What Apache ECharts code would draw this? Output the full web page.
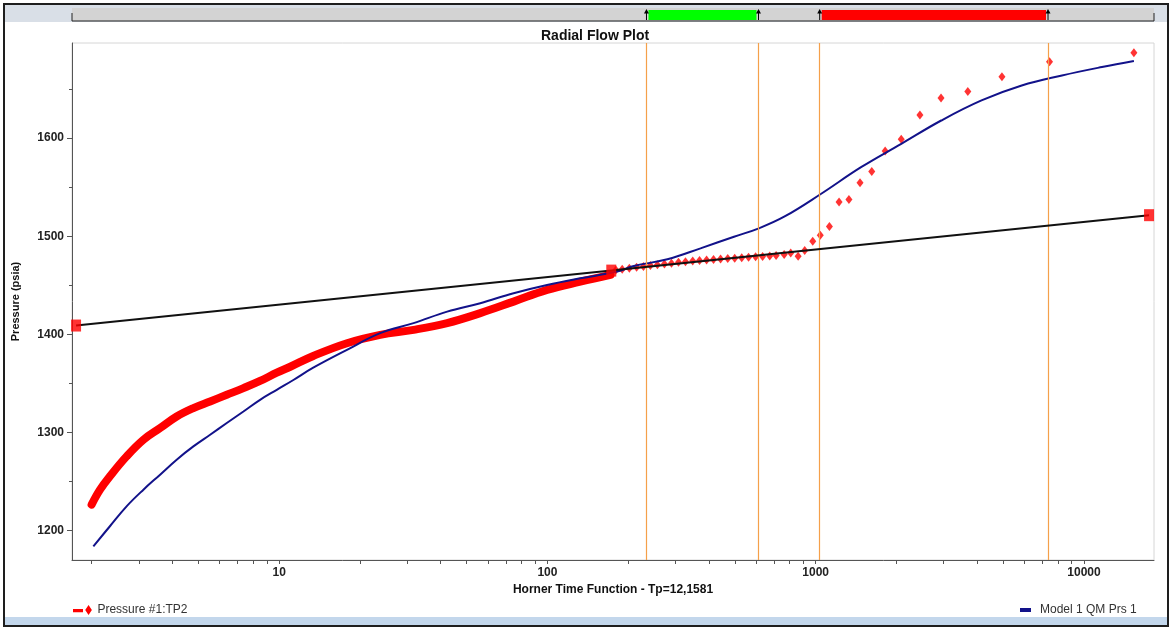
<!DOCTYPE html>
<html><head><meta charset="utf-8">
<script src="https://cdn.jsdelivr.net/npm/echarts@6/dist/echarts.min.js"></script>
<style>html,body{margin:0;padding:0;background:#fff}#c{width:1174px;height:629px}</style>
</head><body><div id="c"></div><script>
// ---- data ----
var chartTitle = 'Radial Flow Plot';
var xName = 'Horner Time Function - Tp=12,1581';
var yName = 'Pressure (psia)';
var seriesNames = ['Pressure #1:TP2', 'Model 1 QM Prs 1'];

var xMin = 1.69, xMax = 18240;
var yMin = 1170, yMax = 1697;
var xTickLabels = [10, 100, 1000, 10000];
var xTicks = [2,3,4,5,6,7,8,9,10,20,30,40,50,60,70,80,90,100,200,300,400,500,600,700,800,900,1000,2000,3000,4000,5000,6000,7000,8000,9000,10000];
var yTickLabels = [1200, 1300, 1400, 1500, 1600];
var yMinorTicks = [1250, 1350, 1450, 1550, 1650];

// measured pressure, dense early part (drawn as thick band)
var presDenseX = [2.0, 2.15, 2.34, 2.70, 3.12, 3.60, 4.15, 4.79, 5.53, 6.38, 7.36, 8.49, 9.80, 11.0, 13.4, 17.9, 23.8, 31.7, 42.3, 56.2, 74.8, 99.7, 132.7, 171.8];
var presDenseY = [1226.5, 1241.7, 1255.3, 1275.6, 1292.6, 1304.5, 1316.3, 1324.9, 1331.6, 1338.4, 1345.2, 1352.5, 1361, 1367, 1378, 1391, 1399.5, 1404.6, 1411.5, 1421.6, 1433.4, 1445.3, 1453.7, 1460.6];
// measured pressure, later individual points
var presPtsX = [180, 190, 202, 215, 228, 242, 257, 273, 290, 308, 327, 348, 369, 392, 416, 442, 470, 499, 530, 562, 597, 634, 674, 712, 763, 807, 860, 910, 975, 1040, 1125, 1222, 1330, 1463, 1618, 1815, 2084, 2446, 2932, 3690, 4946, 7440, 15350];
var presPtsY = [1465.5, 1466.5, 1467.5, 1468.4, 1469.3, 1470.2, 1471, 1471.8, 1472.6, 1473.4, 1474.1, 1474.7, 1475.3, 1475.9, 1476.4, 1476.9, 1477.3, 1477.7, 1478.1, 1478.5, 1479, 1479.4, 1479.8, 1480.3, 1481.5, 1483, 1479.7, 1485.5, 1495, 1501, 1510, 1535, 1537.5, 1554.5, 1566, 1587, 1599, 1623.5, 1641, 1647.5, 1662.5, 1678, 1687];
// model
var modelX = [2.03, 2.34, 2.70, 3.12, 3.60, 4.15, 4.79, 5.53, 6.38, 7.36, 8.49, 9.80, 11.3, 13.4, 17.9, 23.8, 31.7, 42.3, 56.2, 74.8, 99.7, 132.7, 182, 210, 280, 372, 496, 614, 763, 1045, 1476, 2084, 2937, 4150, 5861, 8279, 11670, 15350];
var modelY = [1184, 1204.4, 1224.7, 1241.7, 1257, 1272.3, 1285.8, 1297.7, 1309.6, 1321.4, 1333.3, 1343.5, 1353.5, 1366, 1384.2, 1401.2, 1411.5, 1423.2, 1431.8, 1442, 1450.4, 1457.2, 1464, 1469.7, 1476.5, 1487.7, 1499.5, 1508.1, 1519.9, 1543.1, 1570.4, 1594.2, 1618, 1638.5, 1653.7, 1663.9, 1672.5, 1678.6];
// radial flow straight line (through square handles)
var radialX = [1.75, 173, 17480];
var radialY = [1409, 1465, 1521.5];
// vertical range markers
var markerX = [234, 612, 1035, 7345];
var greenRange = [234, 612];
var redRange = [1035, 7345];

function zip(a, b) { return a.map(function (v, i) { return [v, b[i]]; }); }

var FONT = 'Liberation Sans, Arial, sans-serif';
var chart = echarts.init(document.getElementById('c'), null, {renderer: 'canvas'});

var option = {
  animation: false,
  backgroundColor: '#ffffff',
  title: {
    text: chartTitle, left: 536, top: 24,
    textStyle: {fontFamily: FONT, fontSize: 14, fontWeight: 'bold', color: '#111'}
  },
  legend: [
    {
      data: [{name: seriesNames[0], icon: 'path://M0,4h9v3h-9z M14,0.5l3,4.5l-3,4.5l-3,-4.5z'}],
      left: 68, top: 599, itemWidth: 20, itemHeight: 10,
      textStyle: {fontFamily: FONT, fontSize: 12, color: '#333'}
    },
    {
      data: [{name: seriesNames[1], icon: 'rect'}],
      left: 1015, top: 599, itemWidth: 11, itemHeight: 4,
      textStyle: {fontFamily: FONT, fontSize: 12, color: '#333', padding: [0, 0, 0, 4]}
    }
  ],
  grid: {left: 72, right: 20, top: 43, bottom: 69, show: true, borderColor: '#d6d6d6', borderWidth: 1},
  xAxis: {
    type: 'log', logBase: 10, min: xMin, max: xMax,
    name: xName, nameLocation: 'middle', nameGap: 23,
    nameTextStyle: {fontFamily: FONT, fontSize: 12, fontWeight: 'bold', color: '#111'},
    axisLine: {show: true, lineStyle: {color: '#555', width: 1}},
    axisTick: {show: true, length: 4, customValues: xTicks, lineStyle: {color: '#555'}},
    axisLabel: {customValues: xTickLabels, margin: 7, fontFamily: FONT, fontSize: 12, fontWeight: 'bold', color: '#222',
      formatter: function (v) { return String(Math.round(v)); }},
    splitLine: {show: false}
  },
  yAxis: [
    {
      type: 'value', min: yMin, max: yMax, position: 'left',
      name: yName, nameLocation: 'middle', nameGap: 51,
      nameTextStyle: {fontFamily: FONT, fontSize: 11, fontWeight: 'bold', color: '#111'},
      axisLine: {show: true, lineStyle: {color: '#555', width: 1}},
      axisTick: {show: true, length: 5, customValues: yTickLabels, lineStyle: {color: '#555'}},
      axisLabel: {customValues: yTickLabels, margin: 8, fontFamily: FONT, fontSize: 12, fontWeight: 'bold', color: '#222',
        formatter: function (v) { return String(Math.round(v)); }},
      splitLine: {show: false}
    },
    {
      type: 'value', min: yMin, max: yMax, position: 'left', offset: 0,
      axisLine: {show: false},
      axisTick: {show: true, length: 3, customValues: yMinorTicks, lineStyle: {color: '#555'}},
      axisLabel: {show: false},
      splitLine: {show: false}
    }
  ],
  series: [
    {
      name: seriesNames[0], type: 'line', data: zip(presDenseX, presDenseY),
      showSymbol: false, symbol: 'none', smooth: 0.4,
      lineStyle: {color: '#ff0000', width: 8, cap: 'round', join: 'round'},
      itemStyle: {color: '#ff0000'},
      markLine: {
        silent: true, symbol: 'none', animation: false,
        label: {show: false},
        lineStyle: {color: '#f5a04a', width: 1.2, type: 'solid'},
        data: markerX.map(function (v) { return {xAxis: v}; })
      },
      z: 2
    },
    {
      name: seriesNames[0], type: 'scatter', data: zip(presPtsX, presPtsY),
      symbol: 'diamond', symbolSize: [7, 9],
      itemStyle: {color: '#ff0000'}, z: 3
    },
    {
      name: seriesNames[1], type: 'line', data: zip(modelX, modelY),
      showSymbol: false, symbol: 'none', smooth: 0.4,
      lineStyle: {color: '#12128a', width: 2},
      itemStyle: {color: '#12128a'}, z: 4
    },
    {
      name: 'radial', type: 'line', data: zip(radialX, radialY),
      showSymbol: false, symbol: 'none',
      lineStyle: {color: '#111111', width: 2}, z: 5
    },
    {
      name: 'handles', type: 'scatter', data: zip(radialX, radialY),
      symbol: 'rect', symbolSize: [10, 12],
      itemStyle: {color: '#ff0000'}, z: 6
    }
  ]
};
chart.setOption(option);

// frame & top range bar positioned through the x axis scale
function px(v) { return chart.convertToPixel({xAxisIndex: 0}, v); }
var gl = 72, gr = 1174 - 20;
var g = [];
g.push({type: 'rect', shape: {x: 4, y: 4, width: 1164, height: 18}, style: {fill: '#d9dfe7'}, z: 0, silent: true});
g.push({type: 'rect', shape: {x: gl, y: 8, width: gr - gl, height: 13}, style: {fill: '#d3d3d3'}, z: 1, silent: true});
g.push({type: 'line', shape: {x1: gl, y1: 21, x2: gr, y2: 21}, style: {stroke: '#222', lineWidth: 1.2}, z: 2, silent: true});
g.push({type: 'line', shape: {x1: gl, y1: 13, x2: gl, y2: 21}, style: {stroke: '#222', lineWidth: 1}, z: 2, silent: true});
g.push({type: 'line', shape: {x1: gr, y1: 13, x2: gr, y2: 21}, style: {stroke: '#222', lineWidth: 1}, z: 2, silent: true});
var ga = px(greenRange[0]), gb = px(greenRange[1]);
g.push({type: 'rect', shape: {x: ga + 2, y: 10, width: gb - ga - 4, height: 10}, style: {fill: '#00ff00'}, z: 2, silent: true});
var ra = px(redRange[0]), rb = px(redRange[1]);
g.push({type: 'rect', shape: {x: ra + 2, y: 10, width: rb - ra - 4, height: 10}, style: {fill: '#ff0000'}, z: 2, silent: true});
markerX.forEach(function (v) {
  var x = px(v);
  g.push({type: 'line', shape: {x1: x, y1: 12, x2: x, y2: 20}, style: {stroke: '#000', lineWidth: 1}, z: 3, silent: true});
  g.push({type: 'polygon', shape: {points: [[x, 9], [x - 2.5, 13.5], [x + 2.5, 13.5]]}, style: {fill: '#000'}, z: 3, silent: true});
});
// outer frame
g.push({type: 'rect', shape: {x: 4, y: 617, width: 1164, height: 8}, style: {fill: '#c3d7ec'}, z: 0, silent: true});
g.push({type: 'rect', shape: {x: 4, y: 4, width: 1164, height: 622}, style: {fill: 'none', stroke: '#1e1e1e', lineWidth: 2}, z: 4, silent: true});
chart.setOption({graphic: {elements: g}});
</script></body></html>
